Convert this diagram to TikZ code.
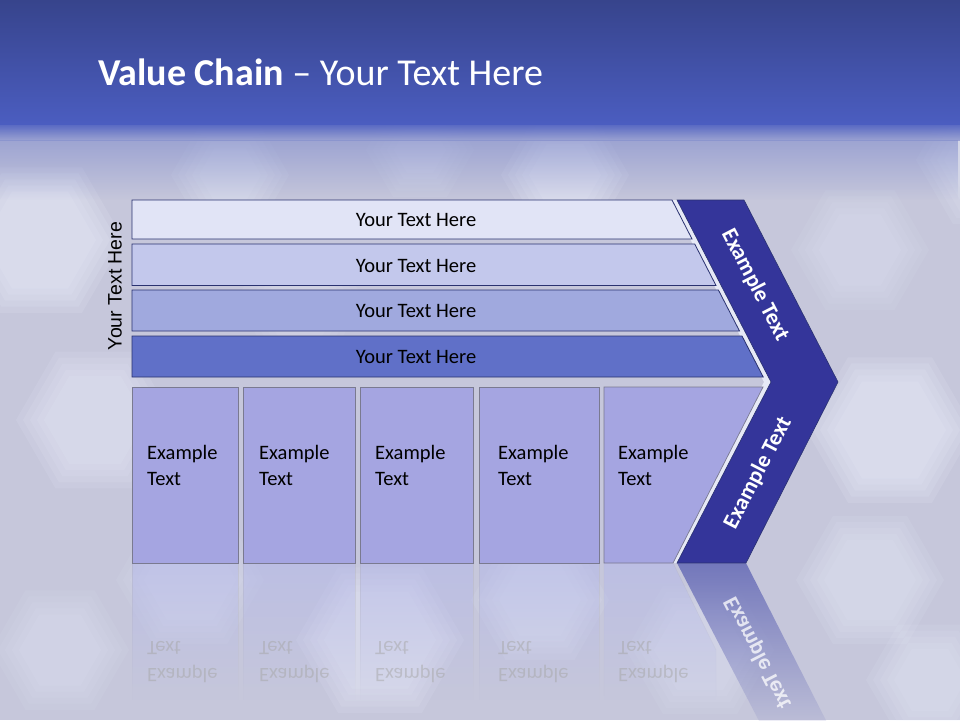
\documentclass[tikz,border=0pt]{standalone}
\usepackage{fontspec}
\setmainfont{Carlito}
\newfontfamily\arialf{Liberation Sans}
\usepackage{graphicx}
\usetikzlibrary{fadings}
\definecolor{bandTop}{HTML}{37448C}
\definecolor{bandBot}{HTML}{4B5DC0}
\definecolor{bgLight}{HTML}{C6C7DB}
\definecolor{bokehC}{HTML}{EEF2FF}
\definecolor{barA}{HTML}{E1E4F6}
\definecolor{barB}{HTML}{C3C8EC}
\definecolor{barC}{HTML}{A0A9DE}
\definecolor{barD}{HTML}{6070C8}
\definecolor{barLine}{HTML}{2A3270}
\definecolor{boxFill}{HTML}{A5A5E1}
\definecolor{boxLine}{HTML}{7A7A90}
\definecolor{chev}{HTML}{34359A}
\definecolor{bevel}{HTML}{E6E9F6}
\definecolor{reflFill}{HTML}{B4B8EA}
\definecolor{reflChev}{HTML}{6A6FB8}
\begin{document}
\begin{tikzpicture}[x=1pt,y=-1pt,
  bokeh/.style={fill=bokehC,fill opacity=#1},
  barshape/.style={draw=barLine,line width=0.8pt},
  boxshape/.style={fill=boxFill,draw=boxLine,line width=0.7pt},
  bartext/.style={font=\fontsize{20.5}{24}\selectfont,text=black,inner sep=0pt},
  boxtext/.style={font=\fontsize{20.5}{24}\selectfont,text=black,anchor=base west,inner sep=0pt},
  refltext/.style={font=\fontsize{20.5}{24}\selectfont,text=black!35,text opacity=0.5,anchor=west,inner sep=0pt},
  chevtext/.style={font=\bfseries\fontsize{22.5}{26}\selectfont,text=white,inner sep=0pt},
  reflbox/.style={fill=reflFill,fill opacity=0.55,draw=boxLine!60,draw opacity=0.4,path fading=south}
]
\useasboundingbox (0,0) rectangle (960,720);
% background
\fill[bgLight] (0,0) rectangle (960,720);
\foreach \cx/\cy/\r/\o in {40/240/70/0.35, 95/420/65/0.30, 230/175/45/0.25, 565/175/50/0.35, 420/150/40/0.2,
  890/430/70/0.35, 860/250/55/0.2, 870/580/60/0.25, 380/640/70/0.3, 540/600/55/0.25, 190/580/60/0.2,
  700/650/60/0.2, 300/300/50/0.15, 930/680/50/0.25, 60/650/55/0.2, 990/160/60/0.25} {
  \foreach \d in {-14,-7,0,7,14} {
    \fill[bokeh=0.38*\o] (\cx,\cy) +(0:\r+\d) -- +(60:\r+\d) -- +(120:\r+\d) -- +(180:\r+\d) -- +(240:\r+\d) -- +(300:\r+\d) -- cycle;
  }
}
\shade[top color=bandTop,bottom color=bandBot] (0,0) rectangle (960,124);
\shade[top color=bandBot,bottom color=bandBot!40!bgLight,fill opacity=0.9] (0,124) rectangle (960,140);
\path[fill=bandBot!55!bgLight,fill opacity=0.6,path fading=south] (0,140) rectangle (960,200);
% title
\node[anchor=base west,text=white,font=\fontsize{38}{42}\selectfont,inner sep=0pt] (title) at (98,85) {\textbf{Value Chain} – Your Text Here};
% vertical label
\node[rotate=90,font=\arialf\fontsize{19.5}{22}\selectfont,inner sep=0pt] (side) at (115,286) {Your Text Here};
% reflections
\foreach \a/\b in {132/238,243/355,360/473,479/599} {
  \path[reflbox] (\a,563) rectangle (\b,700);
}
\path[reflbox] (604,563) -- (673,563) -- (716,650) -- (716,700) -- (604,700) -- cycle;
\path[fill=reflChev,fill opacity=0.9,path fading=south] (677,563) -- (746,563) -- (838,744) -- (771,744) -- cycle;
\node[refltext] (r1a) at (147,674) {\scalebox{1}[-1]{Example}};
\node[refltext] (r1b) at (147,648) {\scalebox{1}[-1]{Text}};
\node[refltext] (r2a) at (259,674) {\scalebox{1}[-1]{Example}};
\node[refltext] (r2b) at (259,648) {\scalebox{1}[-1]{Text}};
\node[refltext] (r3a) at (375,674) {\scalebox{1}[-1]{Example}};
\node[refltext] (r3b) at (375,648) {\scalebox{1}[-1]{Text}};
\node[refltext] (r4a) at (498,674) {\scalebox{1}[-1]{Example}};
\node[refltext] (r4b) at (498,648) {\scalebox{1}[-1]{Text}};
\node[refltext] (r5a) at (618,674) {\scalebox{1}[-1]{Example}};
\node[refltext] (r5b) at (618,648) {\scalebox{1}[-1]{Text}};
\node[chevtext,rotate=-62.7,text=white,text opacity=0.75] (rc) at (758,653) {\scalebox{1}[-1]{Example Text}};
% bevel behind chevron
\fill[bevel] (670,200) -- (744,200) -- (838,382) -- (746,563) -- (670,563) -- (764,382) -- cycle;
% chevron
\fill[chev,draw=barLine,line width=0.6pt] (677,200) -- (744,200) -- (838,382) -- (746,563) -- (677,563) -- (771,382) -- cycle;
% bars
\fill[barA,barshape] (132,200) -- (672,200) -- (692,239) -- (132,239) -- cycle;
\fill[barB,barshape] (132,244) -- (694.7,244) -- (716,285.5) -- (132,285.5) -- cycle;
\fill[barC,barshape] (132,290) -- (718.4,290) -- (739.5,331) -- (132,331) -- cycle;
\fill[barD,barshape] (132,336) -- (742,336) -- (763.2,377) -- (132,377) -- cycle;
\node[bartext] (t1) at (416,219.5) {Your Text Here};
\node[bartext] (t2) at (416,265.5) {Your Text Here};
\node[bartext] (t3) at (416,311) {Your Text Here};
\node[bartext] (t4) at (416,356.5) {Your Text Here};
% boxes
\draw[boxshape] (132,387) rectangle (238,563);
\draw[boxshape] (243,387) rectangle (355,563);
\draw[boxshape] (360,387) rectangle (473,563);
\draw[boxshape] (479,387) rectangle (599,563);
\draw[boxshape] (604,387) -- (763,387) -- (673,563) -- (604,563) -- cycle;
\node[boxtext] (b1a) at (147,459) {Example};
\node[boxtext] (b1b) at (147,485) {Text};
\node[boxtext] (b2a) at (259,459) {Example};
\node[boxtext] (b2b) at (259,485) {Text};
\node[boxtext] (b3a) at (375,459) {Example};
\node[boxtext] (b3b) at (375,485) {Text};
\node[boxtext] (b4a) at (498,459) {Example};
\node[boxtext] (b4b) at (498,485) {Text};
\node[boxtext] (b5a) at (618,459) {Example};
\node[boxtext] (b5b) at (618,485) {Text};
% chevron texts
\node[chevtext,rotate=-62.7] (c1) at (755,285) {Example Text};
\node[chevtext,rotate=62.7] (c2) at (758,473) {Example Text};
\end{tikzpicture}
\end{document}
